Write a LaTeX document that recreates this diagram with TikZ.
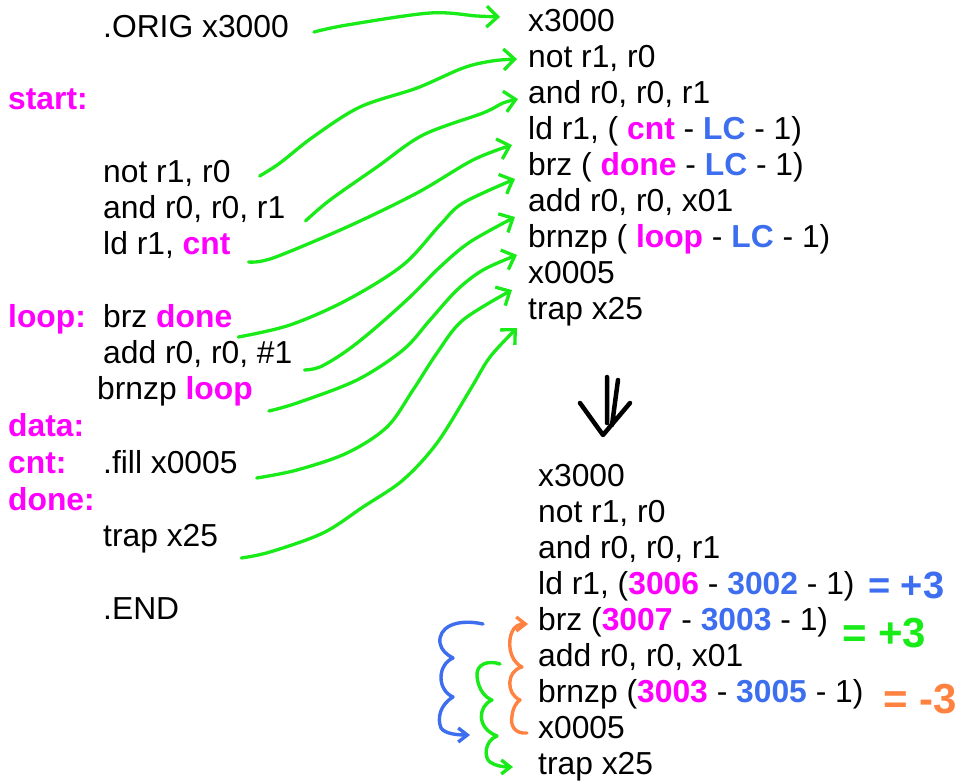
\documentclass[tikz,border=0pt]{standalone}
\usepackage{fontspec}
\setmainfont{Liberation Sans}
\usetikzlibrary{arrows.meta,calc}

\definecolor{lblmag}{RGB}{255,0,255}
\definecolor{refblue}{RGB}{62,110,240}
\definecolor{pengreen}{RGB}{25,235,25}
\definecolor{penorange}{RGB}{255,130,65}

% label names (magenta) and location-counter values (blue)
\newcommand{\labtxt}[1]{\textbf{\color{lblmag}#1}}
\newcommand{\pctxt}[1]{\textbf{\color{refblue}#1}}

\tikzset{
  code/.style={anchor=base west, inner sep=0pt,
    font=\fontsize{31.8}{36}\selectfont},
  penline/.style={line width=3.3pt, line cap=round, line join=round},
  greenarrow/.style={penline, draw=pengreen,
    -{Straight Barb[length=11pt,width=21pt]}},
  curlarrow/.style={penline, line width=3.4pt,
    -{Straight Barb[length=9pt,width=14pt]}},
  handnote/.style={anchor=base west, inner sep=0pt},
}

\begin{document}
\begin{tikzpicture}[x=1pt,y=-1pt]
\fill[white] (0,0) rectangle (964,783);
\useasboundingbox (0,0) rectangle (964,783);

% ---------- assembly source ----------
\node[code] (L0) at (103,38) {.ORIG x3000};
\node[code] (Lstart) at (8,110) {\labtxt{start:}};
\node[code] (L1) at (103,183) {not r1, r0};
\node[code] (L2) at (103,219) {and r0, r0, r1};
\node[code] (L3) at (103,255) {ld r1, \labtxt{cnt}};
\node[code] (Lloop) at (8,328) {\labtxt{loop:}};
\node[code] (L4) at (103,328) {brz \labtxt{done}};
\node[code] (L5) at (103,364) {add r0, r0, \#1};
\node[code] (L6) at (97,400) {brnzp \labtxt{loop}};
\node[code] (Ldata) at (8,436) {\labtxt{data:}};
\node[code] (Lcnt) at (8,473) {\labtxt{cnt:}};
\node[code] (L7) at (103,473) {.fill x0005};
\node[code] (Ldone) at (8,510) {\labtxt{done:}};
\node[code] (L8) at (103,546) {trap x25};
\node[code] (Lend) at (103,619) {.END};

% ---------- symbolic translation ----------
\node[code] (R0) at (528,32)  {x3000};
\node[code] (R1) at (528,68)  {not r1, r0};
\node[code] (R2) at (528,104) {and r0, r0, r1};
\node[code] (R3) at (528,140) {ld r1, ( \labtxt{cnt} - \pctxt{LC} - 1)};
\node[code] (R4) at (528,176) {brz ( \labtxt{done} - \pctxt{LC} - 1)};
\node[code] (R5) at (528,212) {add r0, r0, x01};
\node[code] (R6) at (528,248) {brnzp ( \labtxt{loop} - \pctxt{LC} - 1)};
\node[code] (R7) at (528,284) {x0005};
\node[code] (R8) at (528,320) {trap x25};

% ---------- resolved addresses ----------
\node[code] (B0) at (538,486) {x3000};
\node[code] (B1) at (538,522) {not r1, r0};
\node[code] (B2) at (538,558) {and r0, r0, r1};
\node[code] (B3) at (538,594) {ld r1, (\labtxt{3006} - \pctxt{3002} - 1)};
\node[code] (B4) at (538,630) {brz (\labtxt{3007} - \pctxt{3003} - 1)};
\node[code] (B5) at (538,666) {add r0, r0, x01};
\node[code] (B6) at (538,702) {brnzp (\labtxt{3003} - \pctxt{3005} - 1)};
\node[code] (B7) at (538,738) {x0005};
\node[code] (B8) at (538,774) {trap x25};

% ---------- offsets written by hand ----------
\node[handnote, text=refblue, font=\bfseries\fontsize{38}{40}\selectfont] (N3) at (868,598) {= +3};
\node[handnote, text=pengreen, font=\bfseries\fontsize{42}{44}\selectfont] (N4) at (842,647) {= +3};
\node[handnote, text=penorange, font=\bfseries\fontsize{42}{44}\selectfont] (N6) at (883,713) {= -3};

% ---------- source line -> translated line ----------
\coordinate (g0s) at ($(L0.base east)+(25,-6)$);
\coordinate (g0e) at ($(R0.base west)+(-28,-15)$);
\coordinate (g1s) at ($(L1.base east)+(29,-7)$);
\coordinate (g1e) at ($(R1.base west)+(-11,-9)$);
\coordinate (g2s) at ($(L2.base east)+(20,2)$);
\coordinate (g2e) at ($(R2.base west)+(-10,-5)$);
\coordinate (g3s) at ($(L3.base east)+(18,7)$);
\coordinate (g3e) at ($(R3.base west)+(-16,5)$);
\coordinate (g4s) at ($(L4.base east)+(6,9)$);
\coordinate (g4e) at ($(R4.base west)+(-13,3)$);
\coordinate (g5s) at ($(L5.base east)+(12,6)$);
\coordinate (g5e) at ($(R5.base west)+(-13,5)$);
\coordinate (g6s) at ($(L6.base east)+(16,11)$);
\coordinate (g6e) at ($(R6.base west)+(-11,7)$);
\coordinate (g7s) at ($(L7.base east)+(19,5)$);
\coordinate (g7e) at ($(R7.base west)+(-16,6)$);
\coordinate (g8s) at ($(L8.base east)+(23,12)$);
\coordinate (g8e) at ($(R8.base west)+(-11,8)$);

\draw[greenarrow] plot[smooth, tension=0.55] coordinates
  {(g0s) (347,25) (430,13) (477,16) (g0e)};
\draw[greenarrow] plot[smooth, tension=0.55] coordinates
  {(g1s) (280,163) (313,137) (360,107) (417,88) (463,68) (492,61) (g1e)};
\draw[greenarrow] plot[smooth, tension=0.55] coordinates
  {(g2s) (330,200) (377,167) (423,135) (483,113) (503,103) (g2e)};
\draw[greenarrow] plot[smooth, tension=0.55] coordinates
  {(g3s) (273,258) (347,227) (417,193) (473,160) (g3e)};
\draw[greenarrow] plot[smooth, tension=0.55] coordinates
  {(g4s) (290,325) (347,300) (403,265) (440,225) (463,203) (g4e)};
\draw[greenarrow] plot[smooth, tension=0.55] coordinates
  {(g5s) (320,367) (345,352) (373,330) (410,297) (440,267) (470,242) (g5e)};
\draw[greenarrow] plot[smooth, tension=0.55] coordinates
  {(g6s) (297,403) (357,380) (403,350) (430,320) (457,290) (483,270) (g6e)};
\draw[greenarrow] plot[smooth, tension=0.55] coordinates
  {(g7s) (297,470) (347,453) (387,427) (413,390) (437,353) (463,320) (g7e)};
\draw[greenarrow] plot[smooth, tension=0.55] coordinates
  {(g8s) (270,552) (323,533) (363,507) (403,480) (437,443) (470,390) (490,357) (g8e)};

% ---------- translation step ----------
\draw[line width=4.5pt, line cap=round, line join=round]
  (607,377) -- (607,423)
  (618,380) -- (612,425)
  (580,403) -- (603,435) -- (630,403);

% ---------- counted jumps between resolved lines ----------
\coordinate (bS) at ($(B4.base west)+(-55,-6)$);
\coordinate (bE) at ($(B7.base west)+(-68,-3)$);
\coordinate (gS) at ($(B5.base west)+(-38,-2)$);
\coordinate (gE) at ($(B8.base west)+(-25,-7)$);
\coordinate (oS) at ($(B7.base west)+(-11,-5)$);
\coordinate (oE) at ($(B4.base west)+(-10,-6)$);

\draw[curlarrow, draw=refblue] (bS)
  .. controls (455,618) and (438,628) .. (440,643)
  .. controls (441,650) and (447,655) .. (453,658)
  .. controls (437,665) and (437,690) .. (453,697)
  .. controls (440,705) and (437,718) .. (441,728)
  .. controls (445,734) and (458,735) .. (bE);
\draw[curlarrow, draw=pengreen] (gS)
  .. controls (488,660) and (476,664) .. (477,676)
  .. controls (478,690) and (486,698) .. (492,700)
  .. controls (478,706) and (476,728) .. (497,736)
  .. controls (484,741) and (484,758) .. (490,762)
  .. controls (495,766) and (504,767) .. (gE);
\draw[curlarrow, draw=penorange] (oS)
  .. controls (515,734) and (510,726) .. (512,716)
  .. controls (513,707) and (517,702) .. (520,700)
  .. controls (506,694) and (506,671) .. (522,667)
  .. controls (508,660) and (508,640) .. (512,632)
  .. controls (514,626) and (520,624) .. (oE);
\end{tikzpicture}
\end{document}
